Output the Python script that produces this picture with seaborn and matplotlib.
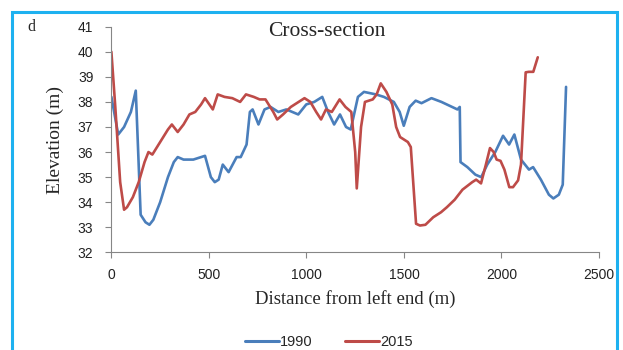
import matplotlib
matplotlib.use("Agg")
import matplotlib.pyplot as plt
import seaborn as sns
import pandas as pd
from matplotlib.patches import Rectangle

# ---- data ----
x_1990 = [0, 35, 65, 100, 125, 150, 175, 195, 215, 250, 290, 320, 340, 370, 420, 460, 480,
          510, 530, 550, 571, 601, 642, 663, 693, 710, 724, 754, 785, 816, 856, 897, 958,
          999, 1040, 1081, 1111, 1142, 1172, 1203, 1227, 1264, 1295, 1356, 1397, 1448,
          1478, 1499, 1529, 1560, 1590, 1641, 1692, 1774, 1786, 1790, 1825, 1866, 1896,
          1927, 1968, 2008, 2039, 2066, 2100, 2141, 2162, 2202, 2243, 2266, 2294, 2314, 2331]
y_1990 = [38.2, 36.7, 37.0, 37.6, 38.45, 33.5, 33.2, 33.1, 33.3, 34.0, 35.0, 35.6, 35.8,
          35.7, 35.7, 35.8, 35.85, 35.0, 34.8, 34.9, 35.5, 35.2, 35.8, 35.8, 36.3, 37.6,
          37.7, 37.1, 37.7, 37.8, 37.6, 37.7, 37.5, 37.9, 38.0, 38.2, 37.6, 37.1, 37.5,
          37.0, 36.9, 38.2, 38.4, 38.3, 38.2, 38.0, 37.6, 37.05, 37.8, 38.05, 37.95,
          38.15, 38.0, 37.7, 37.8, 35.6, 35.4, 35.1, 35.0, 35.5, 36.0, 36.65, 36.3, 36.7,
          35.7, 35.3, 35.4, 34.9, 34.3, 34.15, 34.3, 34.7, 38.6]

x_2015 = [0, 20, 45, 65, 80, 110, 140, 170, 190, 210, 250, 290, 310, 340, 370, 400, 430,
          460, 480, 520, 545, 580, 620, 660, 690, 730, 760, 790, 830, 850, 880, 920, 960,
          990, 1020, 1050, 1075, 1100, 1130, 1170, 1200, 1230, 1250, 1258, 1280, 1300,
          1340, 1360, 1381, 1410, 1440, 1460, 1480, 1520, 1535, 1562, 1582, 1610, 1650,
          1690, 1720, 1760, 1800, 1850, 1870, 1895, 1920, 1941, 1960, 1975, 1995, 2015,
          2040, 2059, 2085, 2100, 2124, 2140, 2163, 2186]
y_2015 = [40.0, 37.8, 34.8, 33.7, 33.8, 34.2, 34.8, 35.6, 36.0, 35.9, 36.4, 36.9, 37.1,
          36.8, 37.1, 37.5, 37.6, 37.9, 38.15, 37.7, 38.3, 38.2, 38.15, 38.0, 38.3, 38.2,
          38.1, 38.1, 37.6, 37.3, 37.5, 37.8, 38.0, 38.15, 38.0, 37.6, 37.3, 37.7, 37.6,
          38.1, 37.8, 37.6, 36.0, 34.55, 37.0, 38.0, 38.1, 38.3, 38.74, 38.4, 37.9, 37.0,
          36.6, 36.4, 36.2, 33.14, 33.07, 33.1, 33.4, 33.6, 33.8, 34.1, 34.5, 34.8, 34.9,
          34.75, 35.5, 36.16, 36.0, 35.7, 35.65, 35.3, 34.6, 34.6, 34.87, 35.5, 39.18,
          39.2, 39.2, 39.78]

years = ["1990", "2015"]
colors = ["#4a7ebb", "#be4b48"]
x_ticks = [0, 500, 1000, 1500, 2000, 2500]
y_ticks = [32, 33, 34, 35, 36, 37, 38, 39, 40, 41]

df = pd.concat([
    pd.DataFrame({"Distance": x_1990, "Elevation": y_1990, "Year": years[0]}),
    pd.DataFrame({"Distance": x_2015, "Elevation": y_2015, "Year": years[1]}),
], ignore_index=True)

sns.set_theme(style="ticks")
plt.rcParams["font.family"] = ["Liberation Sans", "DejaVu Sans"]
plt.rcParams["lines.solid_joinstyle"] = "round"
plt.rcParams["lines.solid_capstyle"] = "round"

fig = plt.figure(figsize=(6.23, 3.5), dpi=100)
ax = fig.add_axes([0.1788, 0.279, 0.9615 - 0.1788, 0.9237 - 0.279])

sns.lineplot(data=df, x="Distance", y="Elevation", hue="Year", palette=colors,
             hue_order=years, estimator=None, sort=False, linewidth=1.9, ax=ax,
             legend=True)

ax.set_xlim(0, 2500)
ax.set_ylim(32, 41)
ax.set_xticks(x_ticks)
ax.set_yticks(y_ticks)
ax.tick_params(axis="both", labelsize=10, colors="#868686", length=4, width=0.8,
               labelcolor="#222222")
ax.tick_params(axis="y", pad=9)
ax.tick_params(axis="x", pad=7)
for s in ["top", "right"]:
    ax.spines[s].set_visible(False)
for s in ["left", "bottom"]:
    ax.spines[s].set_color("#868686")
    ax.spines[s].set_linewidth(0.8)

serif = ["Liberation Serif", "DejaVu Serif"]
ax.set_xlabel("Distance from left end (m)", fontsize=13.5, family=serif, labelpad=6)
ax.set_ylabel("Elevation (m)", fontsize=14, family=serif, labelpad=10)
fig.text(327 / 623, 1 - 31 / 350, "Cross-section", fontsize=15.5, family=serif,
         ha="center", va="center")
fig.text(31 / 623, 1 - 27 / 350, "d", fontsize=11.5, family=serif, ha="center", va="center")

handles, labels = ax.get_legend_handles_labels()
leg = ax.legend(handles, labels, loc="center", bbox_to_anchor=(329 / 623, 1 - 342 / 350),
                bbox_transform=fig.transFigure, ncol=2, frameon=False, fontsize=10.5,
                handlelength=2.3, handletextpad=0.1, columnspacing=2.2, title=None)
for line in leg.get_lines():
    line.set_linewidth(2.2)

fig.patches.append(Rectangle((12 / 623, -0.05), (617 - 12) / 623, 1 - 12 / 350 + 0.05,
                             transform=fig.transFigure, fill=False, edgecolor="#1eb1f0",
                             linewidth=2.2, zorder=10))

fig.savefig("out.png", dpi=100, facecolor="white")
